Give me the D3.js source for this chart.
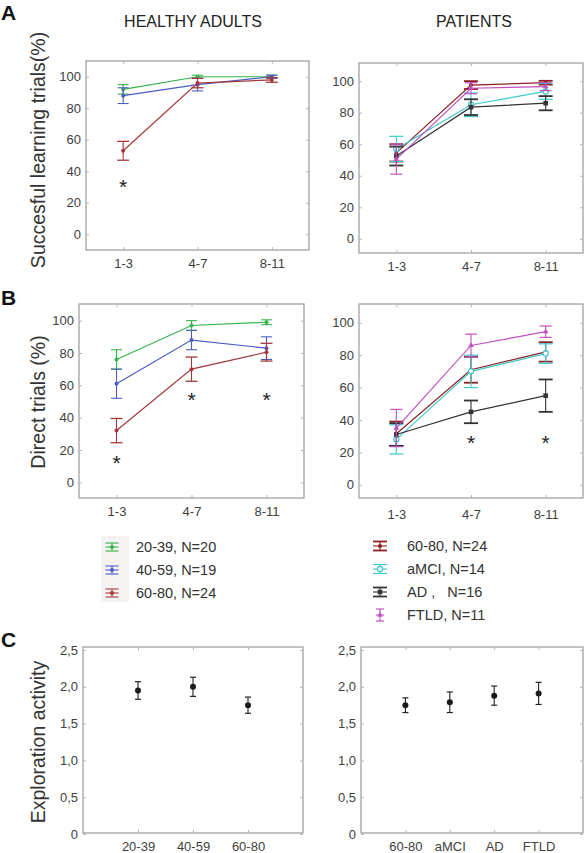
<!DOCTYPE html>
<html><head><meta charset="utf-8">
<script src="https://cdn.jsdelivr.net/npm/d3@7"></script>
<style>body{margin:0;background:#fff}svg{display:block;font-family:"Liberation Sans",Arial,sans-serif}</style>
</head><body><svg id="c" width="584" height="853"></svg>
<script>
// ---------- DATA ----------
const trialBins = ["1-3", "4-7", "8-11"];
const pctTicks = [0, 20, 40, 60, 80, 100];
const healthyGroups = ["20-39, N=20", "40-59, N=19", "60-80, N=24"];
const patientGroups = ["60-80, N=24", "aMCI, N=14", "AD ,   N=16", "FTLD, N=11"];

// A: successful learning trials (%)
const learnHealthyMean = [[92, 100, 100], [88, 95, 100], [53, 96, 98]];
const learnHealthyErr  = [[3, 1, 1], [5, 4, 1], [6, 3, 1.5]];
const learnPatientMean = [[54.5, 97.5, 99], [57, 85, 93.5], [52.5, 83.5, 86], [50.5, 95.5, 96.5]];
const learnPatientErr  = [[5.5, 2.5, 1.2], [8, 7.5, 5], [6, 5, 4.5], [9.5, 3.5, 2.5]];
const learnHealthySig  = [{bin: "1-3", v: 33}];

// B: direct trials (%)
const directHealthyMean = [[76, 97, 99], [61, 88, 83], [32, 70, 80.5]];
const directHealthyErr  = [[6, 3, 1.5], [9, 6, 7], [7.5, 7.5, 5.5]];
const directPatientMean = [[31.5, 71, 82], [28, 70, 81], [31, 45, 55], [35, 86, 94.5]];
const directPatientErr  = [[7.5, 8, 6], [9, 10, 6], [7, 7, 10], [11.5, 7, 3.5]];
const directHealthySig  = [{bin: "1-3", v: 15}, {bin: "4-7", v: 54}, {bin: "8-11", v: 54}];
const directPatientSig  = [{bin: "4-7", v: 29}, {bin: "8-11", v: 29}];

// C: exploration activity
const exploreHealthyCats = ["20-39", "40-59", "60-80"];
const exploreHealthyMean = [1.95, 2.0, 1.75];
const exploreHealthyErr  = [0.12, 0.13, 0.11];
const explorePatientCats = ["60-80", "aMCI", "AD", "FTLD"];
const explorePatientMean = [1.75, 1.79, 1.88, 1.91];
const explorePatientErr  = [0.10, 0.14, 0.13, 0.15];
const exploreTicks = [0, 0.5, 1.0, 1.5, 2.0, 2.5];
const exploreTickLabels = ["0", "0,5", "1,0", "1,5", "2,0", "2,5"];

// ---------- STYLE ----------
const healthyColors = ["#35b44a", "#4b5cc4", "#a3383c"];
const patientColors = ["#8e1f22", "#3ec9cc", "#333333", "#c24fc2"];
const healthyMarkers = ["dot", "dot", "dot"];
const patientMarkers = ["dot", "circle", "square", "tri"];
const patientCapW = [1.8, 1.2, 1.8, 1.2];

const svg = d3.select("#c");
const FRAME = "#9a9a9a", TICK = "#b5b5b5", LBL = "#404040";

function drawMarker(g, kind, cx, cy, color) {
  if (kind === "dot") g.append("circle").attr("cx", cx).attr("cy", cy).attr("r", 2).attr("fill", color);
  else if (kind === "circle") g.append("circle").attr("cx", cx).attr("cy", cy).attr("r", 2.6).attr("fill", "#fff").attr("stroke", color).attr("stroke-width", 1.2);
  else if (kind === "square") g.append("rect").attr("x", cx - 2.3).attr("y", cy - 2.3).attr("width", 4.6).attr("height", 4.6).attr("fill", color);
  else if (kind === "tri") g.append("path").attr("d", d3.symbol(d3.symbolTriangle, 14)()).attr("transform", `translate(${cx},${cy})`).attr("fill", color);
}

function frame(cfg, x, y, yTicks, yLabels, xPad) {
  const g = svg.append("g");
  g.append("rect").attr("x", cfg.x0).attr("y", cfg.y0).attr("width", cfg.x1 - cfg.x0).attr("height", cfg.y1 - cfg.y0)
    .attr("fill", "none").attr("stroke", FRAME).attr("stroke-width", 1.2);
  const ax = (a) => a.call(s => s.select(".domain").remove()).call(s => s.selectAll("line").attr("stroke", TICK));
  const left = d3.axisLeft(y).tickValues(yTicks).tickSize(-3).tickPadding(5).tickFormat((d, i) => yLabels ? yLabels[i] : d);
  g.append("g").attr("transform", `translate(${cfg.x0},0)`).call(left).call(ax)
    .call(s => s.selectAll("text").attr("fill", LBL).attr("font-size", 13).attr("font-family", "Liberation Sans, Arial, sans-serif"));
  g.append("g").attr("transform", `translate(${cfg.x1},0)`).call(d3.axisRight(y).tickValues(yTicks).tickSize(-3).tickFormat("")).call(ax);
  const bottom = d3.axisBottom(x).tickSize(-3).tickPadding(xPad);
  g.append("g").attr("transform", `translate(0,${cfg.y1})`).call(bottom).call(ax)
    .call(s => s.selectAll("text").attr("fill", LBL).attr("font-size", 13).attr("font-family", "Liberation Sans, Arial, sans-serif"));
  g.append("g").attr("transform", `translate(0,${cfg.y0})`).call(d3.axisTop(x).tickSize(-3).tickFormat("")).call(ax);
}

function errBar(g, cx, ylo, yhi, half, color, w) {
  g.append("line").attr("x1", cx).attr("x2", cx).attr("y1", ylo).attr("y2", yhi).attr("stroke", color).attr("stroke-width", 1.1);
  [ylo, yhi].forEach(yy => g.append("line").attr("x1", cx - half).attr("x2", cx + half).attr("y1", yy).attr("y2", yy).attr("stroke", color).attr("stroke-width", w));
}

function linePanel(cfg, means, errs, colors, markers, capHalf, capW, sig, xPad) {
  const x = d3.scalePoint().domain(trialBins).range([cfg.x0, cfg.x1]).padding(0.5);
  const y = d3.scaleLinear().domain(cfg.dom).range([cfg.y1, cfg.y0]);
  frame(cfg, x, y, pctTicks, null, xPad);
  const g = svg.append("g");
  const line = d3.line().x((d, i) => x(trialBins[i])).y(d => y(d));
  means.forEach((m, s) => {
    const c = colors[s];
    m.forEach((v, i) => errBar(g, x(trialBins[i]), y(v - errs[s][i]), y(v + errs[s][i]), capHalf[s], c, capW[s]));
    g.append("path").attr("d", line(m)).attr("fill", "none").attr("stroke", c).attr("stroke-width", 1.2);
    m.forEach((v, i) => drawMarker(g, markers[s], x(trialBins[i]), y(v), c));
  });
  (sig || []).forEach(sg => {
    g.append("text").attr("x", x(sg.bin)).attr("y", y(sg.v) + 12).attr("text-anchor", "middle")
      .attr("font-size", 21).attr("fill", "#222").text("*");
  });
}

function dotPanel(cfg, cats, means, errs) {
  const x = d3.scalePoint().domain(cats).range([cfg.x0, cfg.x1]).padding(1);
  const y = d3.scaleLinear().domain(cfg.dom).range([cfg.yb, cfg.yt]);
  frame(cfg, x, y, exploreTicks, exploreTickLabels, 9);
  const g = svg.append("g");
  cats.forEach((c, i) => {
    errBar(g, x(c), y(means[i] - errs[i]), y(means[i] + errs[i]), 3, "#222", 1.2);
    g.append("circle").attr("cx", x(c)).attr("cy", y(means[i])).attr("r", 3).attr("fill", "#1a1a1a");
  });
}

// ---------- PANELS ----------
linePanel({x0: 86, x1: 309, y0: 61, y1: 250, dom: [-10, 110]}, learnHealthyMean, learnHealthyErr,
  healthyColors, healthyMarkers, [5.5, 5.5, 6], [1.1, 1.1, 1.3], learnHealthySig, 9);
linePanel({x0: 359, x1: 583, y0: 63, y1: 253, dom: [-9, 111.5]}, learnPatientMean, learnPatientErr,
  patientColors, patientMarkers, [7, 7, 7, 6], patientCapW, null, 9);
linePanel({x0: 79, x1: 304, y0: 304, y1: 498, dom: [-9.7, 110.3]}, directHealthyMean, directHealthyErr,
  healthyColors, healthyMarkers, [5.5, 5.5, 6], [1.1, 1.1, 1.3], directHealthySig, 9);
linePanel({x0: 359, x1: 583, y0: 304, y1: 498, dom: [-8.2, 111.6]}, directPatientMean, directPatientErr,
  patientColors, patientMarkers, [7, 7, 7, 6], patientCapW, directPatientSig, 12);
dotPanel({x0: 83, x1: 303, y0: 647, y1: 833, yb: 834, yt: 650, dom: [0, 2.5]}, exploreHealthyCats, exploreHealthyMean, exploreHealthyErr);
dotPanel({x0: 361, x1: 583, y0: 647, y1: 833, yb: 834, yt: 650, dom: [0, 2.5]}, explorePatientCats, explorePatientMean, explorePatientErr);

// ---------- TEXT ----------
svg.append("text").attr("x", 193).attr("y", 27).attr("text-anchor", "middle").attr("font-size", 16).attr("fill", "#222").text("HEALTHY ADULTS");
svg.append("text").attr("x", 474).attr("y", 27).attr("text-anchor", "middle").attr("font-size", 16).attr("fill", "#222").text("PATIENTS");
[["A", 20], ["B", 305], ["C", 647]].forEach(([t, yy]) =>
  svg.append("text").attr("x", 1).attr("y", yy).attr("font-size", 21).attr("font-weight", "bold").attr("fill", "#111").text(t));
[["Succesful learning trials(%)", 150], ["Direct trials (%)", 402], ["Exploration activity", 742]].forEach(([t, cy]) =>
  svg.append("text").attr("transform", `translate(38,${cy}) rotate(-90)`).attr("text-anchor", "middle").attr("dy", "0.35em")
    .attr("font-size", 19.5).attr("fill", "#333").text(t));

// ---------- LEGENDS ----------
function legendIcon(g, cx, cy, color, marker, half, h, w) {
  [cy - h, cy + h].forEach(yy => g.append("line").attr("x1", cx - half).attr("x2", cx + half).attr("y1", yy).attr("y2", yy).attr("stroke", color).attr("stroke-width", w));
  g.append("line").attr("x1", cx - half).attr("x2", cx + half).attr("y1", cy).attr("y2", cy).attr("stroke", color).attr("stroke-width", 1.1);
  g.append("line").attr("x1", cx).attr("x2", cx).attr("y1", cy - h).attr("y2", cy + h).attr("stroke", color).attr("stroke-width", 1.1);
  drawMarker(g, marker, cx, cy, color);
}
const lg = svg.append("g");
lg.append("rect").attr("x", 101).attr("y", 536).attr("width", 28).attr("height", 66).attr("fill", "#f5f2f2");
healthyGroups.forEach((t, i) => {
  const cy = 547 + i * 23;
  legendIcon(lg, 112, cy, healthyColors[i], healthyMarkers[i], 6.5, 4, 1.1);
  lg.append("text").attr("x", 136).attr("y", cy).attr("dy", "0.35em").attr("font-size", 14.5).attr("fill", "#333").text(t);
});
patientGroups.forEach((t, i) => {
  const cy = 546 + i * 23;
  legendIcon(lg, 380, cy, patientColors[i], patientMarkers[i], i === 3 ? 4 : 7, i === 3 ? 6 : 4.5, patientCapW[i]);
  lg.append("text").attr("x", 407).attr("y", cy).attr("dy", "0.35em").attr("font-size", 14.5).attr("fill", "#333")
    .attr("xml:space", "preserve").style("white-space", "pre").text(t);
});
</script></body></html>
